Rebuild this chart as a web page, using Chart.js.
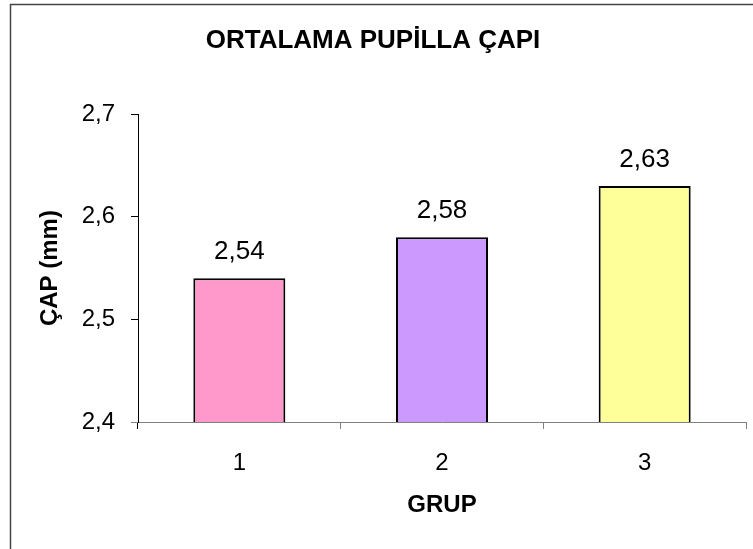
<!DOCTYPE html>
<html>
<head>
<meta charset="utf-8">
<script src="https://cdn.jsdelivr.net/npm/chart.js@4.4.0/dist/chart.umd.min.js"></script>
<style>
  html, body { margin: 0; padding: 0; background: #ffffff; }
  #wrap { position: relative; width: 753px; height: 549px; }
</style>
</head>
<body>
<div id="wrap"><canvas id="c" width="753" height="549"></canvas></div>
<script>
const chartTitle = 'ORTALAMA PUPİLLA ÇAPI';
const xAxisTitle = 'GRUP';
const yAxisTitle = 'ÇAP (mm)';
const categories = ['1', '2', '3'];
const values = [2.54, 2.58, 2.63];
const barColors = ['#FF99CC', '#CC99FF', '#FFFF99'];
const yMin = 2.4, yMax = 2.7, yStep = 0.1;

const FONT = "'Liberation Sans', Arial, sans-serif";
const comma = (v, d) => Number(v).toFixed(d).replace('.', ',');

const framePlugin = {
  id: 'frame',
  beforeDraw(chart) {
    const ctx = chart.ctx;
    ctx.save();
    ctx.fillStyle = '#ffffff';
    ctx.fillRect(0, 0, chart.width, chart.height);
    ctx.strokeStyle = '#444444';
    ctx.lineWidth = 1.5;
    ctx.strokeRect(10.5, 4.5, 800, 600);
    ctx.restore();
  }
};

const valueLabels = {
  id: 'valueLabels',
  afterDatasetsDraw(chart) {
    const ctx = chart.ctx;
    const meta = chart.getDatasetMeta(0);
    ctx.save();
    ctx.font = "26px " + FONT;
    ctx.fillStyle = '#000000';
    ctx.textAlign = 'center';
    ctx.textBaseline = 'alphabetic';
    meta.data.forEach((bar, i) => {
      ctx.fillText(comma(values[i], 2), bar.x, bar.y - 19);
    });
    ctx.restore();
  }
};

new Chart(document.getElementById('c'), {
  type: 'bar',
  data: {
    labels: categories,
    datasets: [{
      data: values,
      backgroundColor: barColors,
      borderColor: '#000000',
      borderWidth: 2,
      borderSkipped: false,
      barPercentage: 0.454,
      categoryPercentage: 1.0
    }]
  },
  options: {
    responsive: false,
    animation: false,
    events: [],
    layout: { padding: { top: 0, right: 7, bottom: 0, left: 0 } },
    plugins: {
      legend: { display: false },
      tooltip: { enabled: false },
      title: {
        display: true,
        text: chartTitle,
        color: '#000000',
        font: { family: FONT, size: 26, weight: 'bold', lineHeight: 1.2 },
        padding: { top: 25, bottom: 58 }
      }
    },
    scales: {
      x: {
        offset: true,
        grid: {
          offset: true,
          drawOnChartArea: false,
          drawTicks: true,
          tickLength: 7,
          color: ctx => ctx.index === 0 ? '#000000' : '#808080'
        },
        border: { display: true, color: '#808080', width: 1 },
        ticks: {
          color: '#000000',
          padding: 20,
          font: { family: FONT, size: 24 }
        },
        title: {
          display: true,
          text: xAxisTitle,
          color: '#000000',
          font: { family: FONT, size: 24, weight: 'bold', lineHeight: 1.2 },
          padding: { top: 0, bottom: 29 }
        },
        afterFit(scale) { scale.height = 127; }
      },
      y: {
        min: yMin,
        max: yMax,
        grid: {
          drawOnChartArea: false,
          drawTicks: true,
          tickLength: 7,
          color: ctx => (ctx.tick && Math.abs(ctx.tick.value - yMin) < 1e-9) ? '#808080' : '#000000'
        },
        border: { display: true, color: '#000000', width: 1 },
        ticks: {
          stepSize: yStep,
          color: '#000000',
          padding: 16,
          font: { family: FONT, size: 24 },
          callback: v => comma(v, 1)
        },
        title: {
          display: true,
          text: yAxisTitle,
          color: '#000000',
          font: { family: FONT, size: 24, weight: 'bold', lineHeight: 1.2 },
          padding: { top: 36, bottom: 0 }
        },
        afterFit(scale) { scale.width = 138; }
      }
    }
  },
  plugins: [framePlugin, valueLabels]
});
</script>
</body>
</html>
